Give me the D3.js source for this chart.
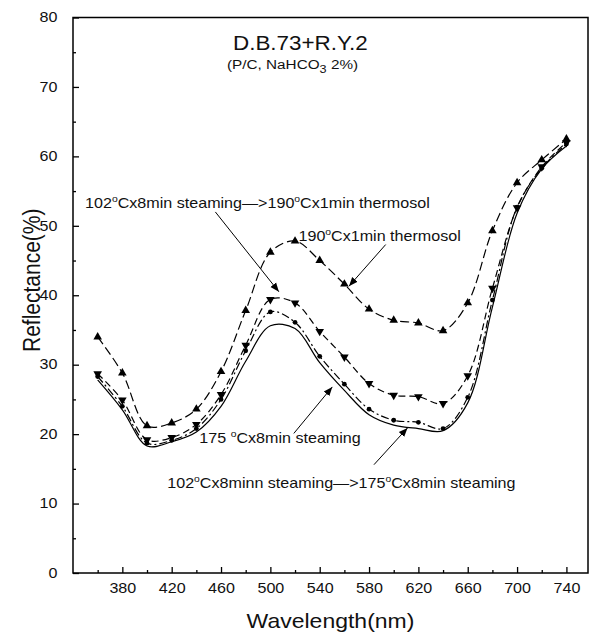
<!DOCTYPE html>
<html><head><meta charset="utf-8">
<script src="https://cdn.jsdelivr.net/npm/d3@7"></script>
<style>
html,body{margin:0;padding:0;background:#fff;}
svg{display:block;font-family:"Liberation Sans",Arial,sans-serif;}
</style></head>
<body>
<svg id="chart" width="592" height="635"></svg>
<script>
// ---- data ----
const wavelengths = [360,380,400,420,440,460,480,500,520,540,560,580,600,620,640,660,680,700,720,740];
const thermosol190 = [34.0,28.8,21.2,21.6,23.6,29.0,37.8,46.2,47.8,45.0,41.6,38.0,36.4,36.0,34.9,38.9,49.3,56.2,59.5,62.5];
const steam102to190 = [28.7,24.9,19.2,19.5,21.4,25.7,32.8,39.4,38.9,34.8,31.1,27.3,25.6,25.4,24.4,28.4,41.0,52.6,58.5,62.0];
const steam102to175 = [28.3,24.0,18.7,19.1,20.8,25.0,32.0,37.6,36.1,31.2,27.2,23.6,22.0,21.7,20.8,25.3,39.3,52.7,58.3,61.8];
const steam175 = [27.8,23.5,18.3,18.9,20.3,24.0,30.5,35.6,35.2,30.3,26.3,22.8,21.3,20.8,20.5,24.5,38.3,51.8,58.2,61.5];
const xMajorTicks = [380,420,460,500,540,580,620,660,700,740];
const xMinorTicks = [360,400,440,480,520,560,600,640,680,720];
const yMajorTicks = [0,10,20,30,40,50,60,70,80];
const yMinorTicks = [5,15,25,35,45,55,65,75];

const svg = d3.select("#chart");
const SX = 1.15; // horizontal stretch of the reference text
const x = d3.scaleLinear().domain([340, 757.5]).range([73, 588]);
const y = d3.scaleLinear().domain([0, 80]).range([573, 17.5]);

function label(x0, y0, str, size, anchor, rot) {
  return svg.append("text")
    .attr("transform", `translate(${x0},${y0}) scale(${SX},1)` + (rot ? " rotate(-90)" : ""))
    .attr("text-anchor", anchor || "start")
    .style("font-size", size + "px")
    .attr("fill", "#111")
    .text(str);
}

// frame
svg.append("rect").attr("x", x.range()[0]).attr("y", y.range()[1])
  .attr("width", x.range()[1] - x.range()[0]).attr("height", y.range()[0] - y.range()[1])
  .attr("fill", "none").attr("stroke", "#000").attr("stroke-width", 1.5);

// axes
const gx = svg.append("g").attr("transform", `translate(0,${y(0)})`)
  .call(d3.axisBottom(x).tickValues(xMajorTicks).tickSize(-6).tickPadding(0).tickFormat(d3.format("d")));
gx.selectAll("text").attr("y", 20).attr("dy", 0).attr("transform", `scale(${SX},1)`)
  .style("font-size", "14px").style("font-family", "Liberation Sans, Arial").attr("fill", "#111");
const gxm = svg.append("g").attr("transform", `translate(0,${y(0)})`)
  .call(d3.axisBottom(x).tickValues(xMinorTicks).tickSize(-3).tickFormat(""));
const gy = svg.append("g").attr("transform", `translate(${x.range()[0]},0)`)
  .call(d3.axisLeft(y).tickValues(yMajorTicks).tickSize(-6).tickPadding(0).tickFormat(d3.format("d")));
gy.selectAll("text").attr("x", -15.5 / SX).attr("dy", "0.3em").attr("transform", `scale(${SX},1)`)
  .style("font-size", "14px").style("font-family", "Liberation Sans, Arial").attr("fill", "#111");
const gym = svg.append("g").attr("transform", `translate(${x.range()[0]},0)`)
  .call(d3.axisLeft(y).tickValues(yMinorTicks).tickSize(-3).tickFormat(""));
[gx, gxm, gy, gym].forEach(g => {
  g.select(".domain").remove();
  g.selectAll("line").attr("stroke", "#000").attr("stroke-width", 1.3);
});

// axis titles
label((x.range()[0] + x.range()[1]) / 2, 628, "Wavelength(nm)", 20, "middle");
label(40, (y.range()[0] + y.range()[1]) / 2 - 15, "Reflectance(%)", 21, "middle", true);

// title
label(233, 50, "D.B.73+R.Y.2", 19.5, "start");
const sub = label(227, 69, "", 13.3, "start");
sub.append("tspan").text("(P/C, NaHCO");
sub.append("tspan").attr("dy", 4).style("font-size", "11px").text("3");
sub.append("tspan").attr("dy", -4).text(" 2%)");

// series
const series = [
  {vals: thermosol190, dash: "9,4", marker: "up"},
  {vals: steam102to190, dash: "7,4", marker: "down"},
  {vals: steam102to175, dash: "8,3,2,3", marker: "circle"},
  {vals: steam175, dash: null, marker: null}
];
const line = d3.line().x((d, i) => x(wavelengths[i])).y(d => y(d)).curve(d3.curveCatmullRom.alpha(0.5));
series.forEach(s => {
  svg.append("path").attr("d", line(s.vals)).attr("fill", "none")
    .attr("stroke", "#000").attr("stroke-width", 1.2)
    .attr("stroke-dasharray", s.dash);
  if (!s.marker) return;
  const g = svg.append("g");
  s.vals.forEach((v, i) => {
    const cx = x(wavelengths[i]), cy = y(v);
    if (s.marker === "circle") {
      g.append("circle").attr("cx", cx).attr("cy", cy).attr("r", 2.4).attr("fill", "#000");
    } else {
      const sym = d3.symbol().type(d3.symbolTriangle).size(32)();
      g.append("path").attr("d", sym)
        .attr("transform", `translate(${cx},${cy})` + (s.marker === "down" ? " rotate(180)" : ""))
        .attr("fill", "#000");
    }
  });
});

// arrow marker
svg.append("defs").append("marker").attr("id", "ah")
  .attr("viewBox", "0 0 10 10").attr("refX", 10).attr("refY", 5)
  .attr("markerWidth", 9).attr("markerHeight", 9).attr("markerUnits", "userSpaceOnUse")
  .attr("orient", "auto")
  .append("path").attr("d", "M0,1 L10,5 L0,9 Z").attr("fill", "#000");

// annotations
function degText(x0, y0, parts) {
  const t = label(x(x0), y(y0), "", 14, "start");
  let pending = 0;
  parts.forEach(p => {
    if (p === "o") {
      t.append("tspan").attr("dy", -6).style("font-size", "9px").text("o");
      pending = 6;
    } else {
      const ts = t.append("tspan").text(p);
      if (pending) { ts.attr("dy", pending); pending = 0; }
    }
  });
}
function arrow(x1, y1, x2, y2) {
  svg.append("line").attr("x1", x(x1)).attr("y1", y(y1)).attr("x2", x(x2)).attr("y2", y(y2))
    .attr("stroke", "#000").attr("stroke-width", 1).attr("marker-end", "url(#ah)");
}
degText(349.8, 52.6, ["102", "o", "Cx8min steaming\u2014>190", "o", "Cx1min thermosol"]);
arrow(455.4, 52.0, 506.9, 40.5);
degText(522.8, 47.8, ["190", "o", "Cx1min thermosol"]);
arrow(593.5, 47.3, 563.7, 41.3);
degText(442.4, 18.7, ["175 ", "o", "Cx8min steaming"]);
arrow(519.0, 20.1, 550.2, 26.8);
degText(416.4, 12.2, ["102", "o", "Cx8minn steaming\u2014>175", "o", "Cx8min steaming"]);
arrow(584.0, 15.6, 611.2, 20.9);
</script>
</body></html>
